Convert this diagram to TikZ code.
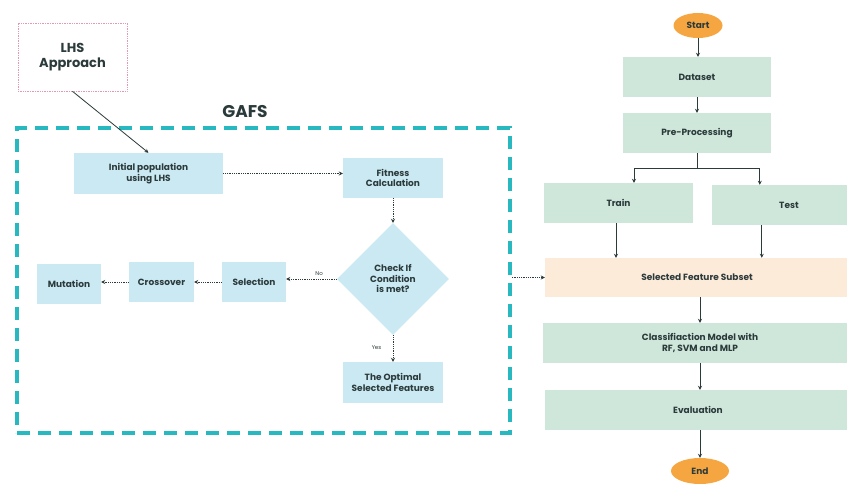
\documentclass[tikz,border=0pt]{standalone}
\usepackage{fontspec}
\setmainfont{Poppins}
\usetikzlibrary{shapes.geometric,arrows.meta}
\definecolor{boxblue}{HTML}{CBE9F3}
\definecolor{boxgreen}{HTML}{CFE7DA}
\definecolor{peach}{HTML}{FDEBDA}
\definecolor{orangeS}{HTML}{F5A640}
\definecolor{tealc}{HTML}{27B9BF}
\definecolor{pinkd}{HTML}{E39AAE}
\definecolor{txt}{HTML}{2B3A3A}
\tikzset{
  base/.style={inner sep=1pt, align=center, text=txt, font=\fontsize{9}{10.5}\selectfont\bfseries},
  bluebox/.style={base, fill=boxblue, minimum height=40pt},
  greenbox/.style={base, fill=boxgreen, minimum height=40pt},
  oval/.style={base, ellipse, fill=orangeS, inner sep=0pt},
  arr/.style={draw=txt, line width=0.8pt, -{Stealth[length=4pt,width=4pt]}},
  dotarr/.style={arr, densely dotted},
  lbl/.style={text=txt, font=\fontsize{5.5}{6.5}\selectfont},
}
\begin{document}
\begin{tikzpicture}[x=1pt,y=-1pt]
\useasboundingbox (0,0) rectangle (847,483);
\fill[white] (0,0) rectangle (847,483);

% LHS approach
\node[draw=pinkd, densely dotted, line width=0.7pt, minimum width=109pt, minimum height=68pt, align=center, text=txt, font=\fontsize{13}{15}\selectfont\bfseries] (lhs) at (72.5,57) {LHS\\Approach};

% GAFS container
\node[draw=tealc, line width=3.5pt, dash pattern=on 13pt off 8pt, minimum width=493pt, minimum height=305pt] (gafsbox) at (263.5,280.5) {};
\node[text=txt, font=\fontsize{17}{20}\selectfont\bfseries] (gafs) at (245,112) {GAFS};

\node[bluebox, minimum width=149pt, minimum height=41pt] (init) at (148.5,173.5) {Initial population\\using LHS};
\node[bluebox, minimum width=100pt] (fit) at (393,178) {Fitness\\Calculation};
\node[base, diamond, fill=boxblue, minimum width=112pt, minimum height=112pt, inner sep=0pt] (cond) at (393,279) {Check If\\Condition\\is met?};
\node[bluebox, minimum width=64pt] (sel) at (254,282) {Selection};
\node[bluebox, minimum width=65pt] (cross) at (161.5,282) {Crossover};
\node[bluebox, minimum width=64pt] (mut) at (69,283.5) {Mutation};
\node[bluebox, minimum width=100pt, minimum height=41pt] (opt) at (393,382.5) {The Optimal\\Selected Features};

\draw[arr] (lhs.south) -- (init.north);
\draw[dotarr] (init.east) -- (fit.west |- init.east);
\draw[dotarr] (fit.south) -- (cond.north);
\draw[dotarr] (cond.west) -- node[lbl, above, pos=0.35] {No} (sel.east |- cond.west);
\draw[dotarr] (sel.west) -- (cross.east);
\draw[dotarr] (cross.west) -- (mut.east |- cross.west);
\draw[dotarr] (cond.south) -- node[lbl, left=8pt, pos=0.45] {Yes} (opt.north);

% right flowchart
\node[oval, minimum width=49pt, minimum height=25pt] (start) at (698,25.5) {Start};
\node[greenbox, minimum width=148pt] (data) at (697,77) {Dataset};
\node[greenbox, minimum width=148pt] (pre) at (697,133) {Pre-Processing};
\node[greenbox, minimum width=149pt] (train) at (618.5,203) {Train};
\node[greenbox, minimum width=154pt] (test) at (789,205) {Test};
\node[base, fill=peach, minimum width=304pt, minimum height=39pt] (sfs) at (697,277.5) {Selected Feature Subset};
\node[greenbox, minimum width=314pt] (cls) at (700,343) {Classifiaction Model with\\RF, SVM and MLP};
\node[greenbox, minimum width=306pt] (eval) at (698,410) {Evaluation};
\node[oval, minimum width=58pt, minimum height=26pt] (end) at (700,471) {End};

\draw[arr] (start.south) -- (start.south |- data.north);
\draw[arr] (data.south) -- (pre.north);
\draw[draw=txt, line width=0.8pt] (pre.south) -- ++(0,15) coordinate (br);
\draw[arr] (br) -| ([xshift=15.5pt]train.north);
\draw[arr] (br) -| ([xshift=48pt]test.north west);
\draw[arr] ([xshift=-2.5pt]train.south) -- ([xshift=-2.5pt]train.south |- sfs.north);
\draw[arr] ([xshift=50pt]test.south west) -- ([xshift=50pt]test.south west |- sfs.north);
\draw[arr] (cls.north |- sfs.south) -- (cls.north);
\draw[arr] (cls.south) -- (cls.south |- eval.north);
\draw[arr] (end.north |- eval.south) -- (end.north);
\draw[dotarr] (gafsbox.east |- sfs.west) -- (sfs.west);
\end{tikzpicture}
\end{document}
